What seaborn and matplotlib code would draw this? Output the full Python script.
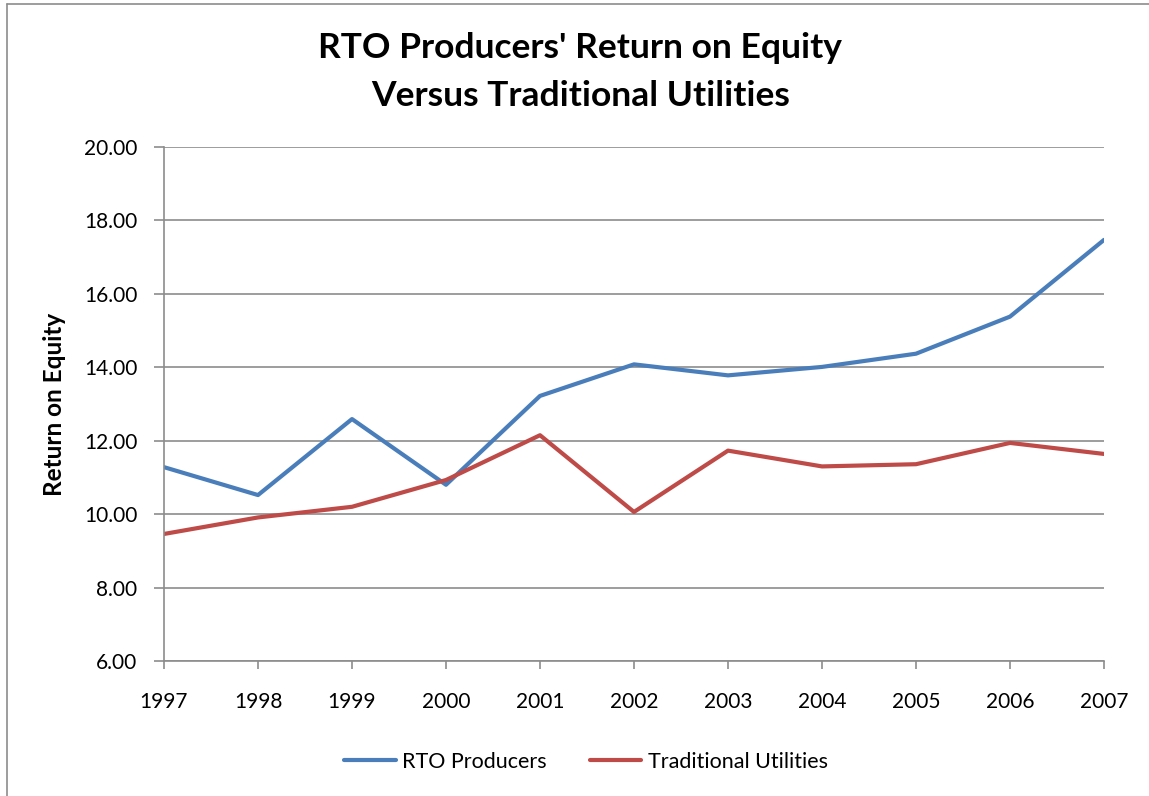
import numpy as np
import pandas as pd
import matplotlib
matplotlib.use("Agg")
import matplotlib.pyplot as plt
import seaborn as sns
from matplotlib.lines import Line2D

years = [1997, 1998, 1999, 2000, 2001, 2002, 2003, 2004, 2005, 2006, 2007]
rto_producers = [11.28, 10.52, 12.59, 10.80, 13.22, 14.08, 13.78, 14.01, 14.37, 15.38, 17.47]
traditional_utilities = [9.46, 9.91, 10.20, 10.93, 12.15, 10.06, 11.73, 11.30, 11.36, 11.94, 11.64]
series_names = ["RTO Producers", "Traditional Utilities"]
y_ticks = [6, 8, 10, 12, 14, 16, 18, 20]

df = pd.DataFrame({
    "Year": years * 2,
    "ROE": rto_producers + traditional_utilities,
    "Series": [series_names[0]] * len(years) + [series_names[1]] * len(years),
})

sns.set_style("white")
plt.rcParams["font.family"] = ["Lato", "DejaVu Sans"]
plt.rcParams["text.color"] = "black"

fig = plt.figure(figsize=(11.49, 7.96), dpi=100)
ax = fig.add_axes([164 / 1149, 1 - 661 / 796, (1104 - 164) / 1149, (661 - 147) / 796])

palette = {series_names[0]: "#4A7EBB", series_names[1]: "#BE4B48"}
sns.lineplot(data=df, x="Year", y="ROE", hue="Series", palette=palette,
             linewidth=3.0, ax=ax, legend=False)

ax.set_xlim(years[0], years[-1])
ax.set_ylim(6, 20)
ax.set_xticks(years)
ax.set_xticklabels([str(y) for y in years])
ax.set_yticks(y_ticks)
ax.set_yticklabels([f"{v:.2f}" for v in y_ticks])
ax.yaxis.grid(True, color="#8c8c8c", linewidth=1.2)
ax.set_axisbelow(True)
for s in ["top", "right"]:
    ax.spines[s].set_visible(False)
for s in ["left", "bottom"]:
    ax.spines[s].set_color("#8c8c8c")
    ax.spines[s].set_linewidth(1.2)
ax.tick_params(axis="both", direction="out", bottom=True, left=True, width=1.2,
               color="#8c8c8c", labelsize=15, labelcolor="black")
ax.tick_params(axis="y", length=7, pad=12)
ax.tick_params(axis="x", length=6, pad=16)
ax.set_xlabel("")
ax.set_ylabel("Return on Equity", fontsize=17.5, fontweight="bold", labelpad=13, color="black")

fig.text(0.505, 0.940, "RTO Producers' Return on Equity", ha="center", va="center",
         fontsize=25.5, fontweight="bold")
fig.text(0.505, 0.880, "Versus Traditional Utilities", ha="center", va="center",
         fontsize=25.5, fontweight="bold")

handles = [Line2D([0], [0], color=palette[n], linewidth=3.0) for n in series_names]
fig.legend(handles, series_names, loc="center", bbox_to_anchor=(0.51, 0.043), ncol=2,
           frameon=False, fontsize=15.5, handlelength=2.4, columnspacing=2.0, handletextpad=0.3)

# outer chart border (left and top visible)
fig.add_artist(Line2D([7 / 1149, 7 / 1149], [0, 1 - 4 / 796], transform=fig.transFigure,
                      color="#8c8c8c", linewidth=1.2))
fig.add_artist(Line2D([7 / 1149, 1], [1 - 4 / 796, 1 - 4 / 796], transform=fig.transFigure,
                      color="#8c8c8c", linewidth=1.2))

fig.savefig("out.png", dpi=100)
